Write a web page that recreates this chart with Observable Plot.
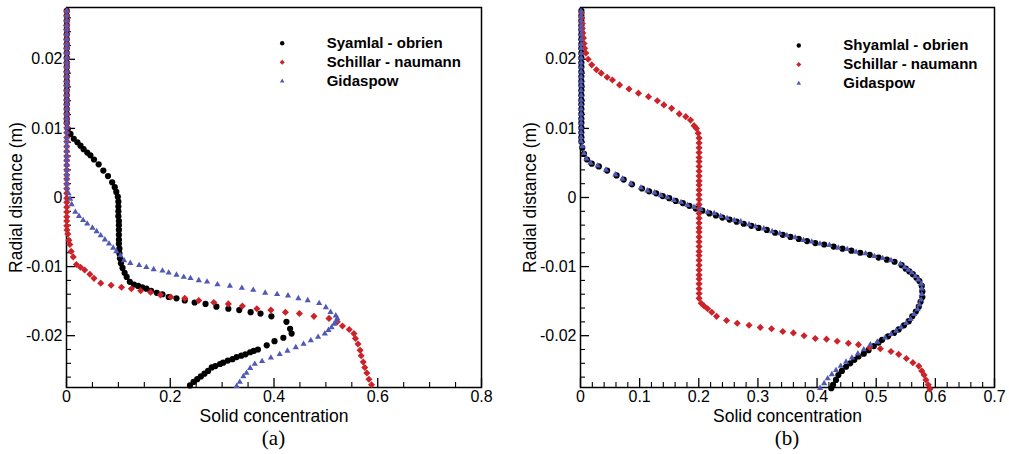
<!DOCTYPE html>
<html>
<head>
<meta charset="utf-8">
<script src="https://cdn.jsdelivr.net/npm/d3@7"></script>
<script src="https://cdn.jsdelivr.net/npm/@observablehq/plot@0.6"></script>
<style>
  html, body { margin: 0; padding: 0; background: #fff; }
  #wrap { position: relative; width: 1009px; height: 454px; background: #fff; overflow: hidden; }
  .pane { position: absolute; top: 0; }
  .cap { position: absolute; top: 426px; font: 21px "Liberation Serif", "Times New Roman", serif; text-align: center; line-height: 24px; color: #000; }
</style>
</head>
<body>
<div id="wrap">
  <div id="pa" class="pane" style="left:0px"></div>
  <div id="pb" class="pane" style="left:505px"></div>
  <div class="cap" style="left:66px;width:415px">(a)</div>
  <div class="cap" style="left:580px;width:414px">(b)</div>
</div>
<script>
// ---------- shared tick values / labels ----------
const yTicks = [0.02, 0.01, 0, -0.01, -0.02];
const yTickLabels = ["0.02", "0.01", "0", "-0.01", "-0.02"];
const yMinor = [0.026, 0.024, 0.022, 0.018, 0.016, 0.014, 0.012, 0.008, 0.006, 0.004, 0.002,
  -0.002, -0.004, -0.006, -0.008, -0.012, -0.014, -0.016, -0.018, -0.022, -0.024, -0.026];
const xTicksA = [0, 0.2, 0.4, 0.6, 0.8];
const xTickLabelsA = ["0", "0.2", "0.4", "0.6", "0.8"];
const xMinorA = [0.05, 0.1, 0.15, 0.25, 0.3, 0.35, 0.45, 0.5, 0.55, 0.65, 0.7, 0.75];
const xTicksB = [0, 0.1, 0.2, 0.3, 0.4, 0.5, 0.6, 0.7];
const xTickLabelsB = ["0", "0.1", "0.2", "0.3", "0.4", "0.5", "0.6", "0.7"];
const xMinorB = [0.02, 0.04, 0.06, 0.08, 0.12, 0.14, 0.16, 0.18, 0.22, 0.24, 0.26, 0.28, 0.32, 0.34, 0.36, 0.38,
  0.42, 0.44, 0.46, 0.48, 0.52, 0.54, 0.56, 0.58, 0.62, 0.64, 0.66, 0.68];
const xTitle = "Solid concentration";
const yTitle = "Radial distance (m)";

const legendA = ["Syamlal - obrien", "Schillar - naumann", "Gidaspow"];
const legendB = ["Shyamlal - obrien", "Schillar - naumann", "Gidaspow"];
const seriesColors = ["#000000", "#cc2229", "#5059b5"];
const seriesSymbols = ["circle", "diamond2", "triangle"];

// radial positions of the cells lying on the wall (x ≈ 0)
const wallY = [0.0270, 0.0263, 0.0256, 0.0249, 0.0243, 0.0236, 0.0229, 0.0222, 0.0216, 0.0209, 0.0202, 0.0195,
  0.0189, 0.0182, 0.0175, 0.0168, 0.0162, 0.0155, 0.0148, 0.0141, 0.0135, 0.0128, 0.0121, 0.0114, 0.0108,
  0.0101, 0.0094, 0.0087, 0.0081, 0.0074, 0.0067, 0.0060, 0.0054, 0.0047, 0.0040, 0.0033, 0.0027, 0.0020,
  0.0013, 0.0006, -0.0001, -0.0007, -0.0014, -0.0021, -0.0028, -0.0034, -0.0041];
const wallX = 0.0005;

// ---------- panel (a) ----------
const blackA = [
  [0.0025,0.0099],[0.0077,0.0092],[0.014,0.0085],[0.021,0.0080],[0.027,0.0075],[0.033,0.0070],[0.040,0.0065],
  [0.046,0.0061],[0.053,0.0055],[0.062,0.0048],[0.071,0.0039],[0.080,0.0031],[0.088,0.0022],[0.093,0.0015],
  [0.096,0.0008],[0.099,0.0001],[0.100,-0.0006],[0.100,-0.0013],[0.100,-0.0020],[0.100,-0.0027],[0.101,-0.0034],
  [0.101,-0.0040],[0.101,-0.0047],[0.101,-0.0054],[0.101,-0.0061],[0.101,-0.0067],[0.102,-0.0074],[0.102,-0.0081],
  [0.103,-0.0088],[0.105,-0.0095],[0.108,-0.0102],[0.112,-0.0109],[0.116,-0.0115],[0.122,-0.0122],[0.130,-0.0126],
  [0.138,-0.0128],[0.146,-0.0130],[0.154,-0.0132],[0.163,-0.0135],[0.174,-0.0138],[0.185,-0.0140],[0.197,-0.0144],
  [0.212,-0.0146],[0.228,-0.0149],[0.247,-0.0152],[0.268,-0.0154],[0.289,-0.0158],[0.312,-0.0161],[0.333,-0.0163],
  [0.355,-0.0166],[0.374,-0.0168],[0.395,-0.0172],[0.424,-0.0180],[0.431,-0.0190],[0.434,-0.0197],[0.418,-0.0203],
  [0.401,-0.0208],[0.386,-0.0214],[0.369,-0.0220],[0.361,-0.0222],[0.354,-0.0224],[0.345,-0.0227],[0.337,-0.0229],
  [0.328,-0.0231],[0.320,-0.0234],[0.311,-0.0236],[0.302,-0.0239],[0.296,-0.0241],[0.287,-0.0244],[0.280,-0.0246],
  [0.273,-0.0251],[0.266,-0.0255],[0.259,-0.0259],[0.252,-0.0263],[0.245,-0.0267],[0.238,-0.0272]
];
const redA = [
  [0.001,-0.0047],[0.0025,-0.0053],[0.0045,-0.0062],[0.0064,-0.0068],[0.009,-0.0078],[0.013,-0.0086],[0.019,-0.0097],
  [0.027,-0.0101],[0.035,-0.0105],[0.045,-0.0111],[0.053,-0.0117],[0.066,-0.0124],[0.086,-0.0127],[0.106,-0.0130],
  [0.125,-0.0132],[0.143,-0.0135],[0.162,-0.0137],[0.181,-0.0141],[0.201,-0.0144],[0.228,-0.0146],[0.255,-0.0149],
  [0.284,-0.0152],[0.312,-0.0154],[0.339,-0.0157],[0.367,-0.0161],[0.394,-0.0163],[0.422,-0.0166],[0.449,-0.0168],
  [0.477,-0.0172],[0.506,-0.0175],[0.522,-0.0180],[0.532,-0.0186],[0.545,-0.0191],[0.554,-0.0197],[0.557,-0.0204],
  [0.562,-0.0212],[0.566,-0.0221],[0.568,-0.0229],[0.572,-0.0238],[0.575,-0.0246],[0.579,-0.0254],[0.583,-0.0263],
  [0.588,-0.0271]
];
const blueA = [
  [0.004,0.0006],[0.007,-0.0002],[0.010,-0.0010],[0.017,-0.0021],[0.024,-0.0027],[0.032,-0.0033],[0.040,-0.0038],
  [0.050,-0.0044],[0.058,-0.0049],[0.066,-0.0055],[0.074,-0.0061],[0.082,-0.0067],[0.090,-0.0073],[0.096,-0.0078],
  [0.104,-0.0084],[0.111,-0.0091],[0.123,-0.0095],[0.140,-0.0098],[0.154,-0.0101],[0.168,-0.0104],[0.185,-0.0106],
  [0.197,-0.0109],[0.212,-0.0112],[0.226,-0.0115],[0.239,-0.0117],[0.255,-0.0120],[0.271,-0.0122],[0.291,-0.0126],
  [0.315,-0.0128],[0.338,-0.0131],[0.360,-0.0134],[0.383,-0.0138],[0.406,-0.0140],[0.427,-0.0142],[0.447,-0.0146],
  [0.465,-0.0149],[0.487,-0.0153],[0.500,-0.0159],[0.509,-0.0166],[0.519,-0.0171],[0.522,-0.0175],[0.520,-0.0179],
  [0.516,-0.0183],[0.511,-0.0188],[0.505,-0.0192],[0.498,-0.0197],[0.485,-0.0202],[0.471,-0.0207],[0.457,-0.0212],
  [0.442,-0.0217],[0.426,-0.0222],[0.411,-0.0227],[0.394,-0.0232],[0.377,-0.0237],[0.363,-0.0241],[0.354,-0.0247],
  [0.347,-0.0254],[0.341,-0.0259],[0.334,-0.0267],[0.328,-0.0273]
];

// ---------- panel (b) ----------
const blackB = [
  [0.003,0.0072],[0.006,0.0063],[0.011,0.0055],[0.019,0.0049],[0.031,0.0045],[0.045,0.0039],[0.061,0.0032],
  [0.073,0.0026],[0.087,0.0019],[0.104,0.0013],[0.116,0.0009],[0.128,0.0006],[0.139,0.0002],[0.150,-0.0001],
  [0.161,-0.0005],[0.173,-0.0008],[0.184,-0.0012],[0.195,-0.0016],[0.206,-0.0019],[0.218,-0.0023],[0.229,-0.0026],
  [0.240,-0.0029],[0.252,-0.0032],[0.264,-0.0035],[0.276,-0.0038],[0.289,-0.0041],[0.301,-0.0044],[0.315,-0.0047],
  [0.329,-0.0051],[0.342,-0.0054],[0.355,-0.0057],[0.369,-0.0060],[0.383,-0.0063],[0.397,-0.0066],[0.412,-0.0068],
  [0.428,-0.0071],[0.443,-0.0074],[0.458,-0.0077],[0.473,-0.0080],[0.489,-0.0083],[0.504,-0.0087],[0.518,-0.0090],
  [0.531,-0.0093],[0.543,-0.0098],[0.550,-0.0103],[0.556,-0.0107],[0.562,-0.0111],[0.568,-0.0116],[0.573,-0.0121],
  [0.577,-0.0128],[0.578,-0.0136],[0.578,-0.0144],[0.575,-0.0151],[0.572,-0.0158],[0.567,-0.0165],[0.561,-0.0172],
  [0.555,-0.0179],[0.547,-0.0185],[0.538,-0.0191],[0.530,-0.0196],[0.520,-0.0201],[0.510,-0.0206],[0.504,-0.0210],
  [0.496,-0.0215],[0.487,-0.0221],[0.479,-0.0226],[0.470,-0.0230],[0.463,-0.0235],[0.456,-0.0240],[0.449,-0.0245],
  [0.442,-0.0251],[0.436,-0.0257],[0.432,-0.0264],[0.427,-0.0271],[0.424,-0.0276]
];
const redB = [
  [0.002,0.0267],[0.002,0.0260],[0.003,0.0252],[0.003,0.0245],[0.004,0.0238],[0.005,0.0231],[0.006,0.0223],
  [0.007,0.0216],[0.009,0.0209],[0.013,0.0200],[0.019,0.0192],[0.027,0.0185],[0.035,0.0180],[0.045,0.0174],
  [0.054,0.0170],[0.066,0.0163],[0.082,0.0157],[0.098,0.0151],[0.115,0.0146],[0.130,0.0140],[0.141,0.0134],
  [0.154,0.0129],[0.167,0.0121],[0.178,0.0117],[0.186,0.0112],[0.192,0.0104],[0.196,0.0100],[0.199,0.0093],
  [0.2005,0.0086],[0.2005,0.0079],[0.2005,0.0072],[0.2005,0.0065],[0.2005,0.0058],[0.2005,0.0052],[0.2005,0.0045],
  [0.2005,0.0038],[0.2005,0.0031],[0.2005,0.0024],[0.2005,0.0018],[0.2005,0.0011],[0.2005,0.0004],[0.2005,-0.0003],
  [0.2005,-0.0010],[0.2005,-0.0016],[0.2005,-0.0023],[0.2005,-0.0030],[0.2005,-0.0037],[0.2005,-0.0044],
  [0.2005,-0.0050],[0.2005,-0.0057],[0.2005,-0.0064],[0.2005,-0.0071],[0.2005,-0.0078],[0.2005,-0.0084],
  [0.2005,-0.0091],[0.2005,-0.0098],[0.2005,-0.0105],[0.2005,-0.0112],[0.2005,-0.0118],[0.2005,-0.0125],
  [0.2005,-0.0132],[0.2005,-0.0139],[0.2005,-0.0146],[0.204,-0.0153],[0.209,-0.0157],[0.215,-0.0161],
  [0.222,-0.0166],[0.230,-0.0172],[0.247,-0.0178],[0.265,-0.0182],[0.285,-0.0185],[0.304,-0.0188],[0.323,-0.0190],
  [0.342,-0.0194],[0.360,-0.0196],[0.378,-0.0200],[0.397,-0.0204],[0.416,-0.0205],[0.434,-0.0208],[0.453,-0.0211],
  [0.470,-0.0213],[0.489,-0.0217],[0.507,-0.0219],[0.525,-0.0223],[0.538,-0.0227],[0.551,-0.0233],[0.562,-0.0239],
  [0.572,-0.0244],[0.577,-0.0251],[0.581,-0.0257],[0.584,-0.0264],[0.588,-0.0271],[0.591,-0.0277]
];
const blueB = [
  [0.003,0.0074],[0.006,0.0064],[0.010,0.0056],[0.017,0.0050],[0.029,0.0046],[0.043,0.0040],[0.059,0.0033],
  [0.071,0.0027],[0.085,0.0020],[0.102,0.0014],[0.113,0.0010],[0.125,0.0007],[0.136,0.0003],[0.147,0.0000],
  [0.158,-0.0004],[0.170,-0.0007],[0.181,-0.0011],[0.192,-0.0014],[0.203,-0.0017],[0.215,-0.0021],[0.226,-0.0023],
  [0.237,-0.0027],[0.248,-0.0030],[0.260,-0.0033],[0.271,-0.0035],[0.285,-0.0039],[0.296,-0.0042],[0.310,-0.0045],
  [0.324,-0.0049],[0.337,-0.0052],[0.349,-0.0055],[0.363,-0.0058],[0.377,-0.0062],[0.391,-0.0064],[0.405,-0.0067],
  [0.421,-0.0069],[0.436,-0.0073],[0.451,-0.0075],[0.466,-0.0079],[0.482,-0.0081],[0.497,-0.0085],[0.511,-0.0088],
  [0.525,-0.0091],[0.541,-0.0096],[0.548,-0.0101],[0.554,-0.0105],[0.560,-0.0109],[0.566,-0.0114],[0.571,-0.0119],
  [0.576,-0.0125],[0.577,-0.0132],[0.577,-0.0140],[0.576,-0.0148],[0.573,-0.0155],[0.570,-0.0162],[0.564,-0.0169],
  [0.558,-0.0176],[0.551,-0.0182],[0.542,-0.0188],[0.534,-0.0193],[0.525,-0.0198],[0.515,-0.0203],[0.502,-0.0209],
  [0.490,-0.0213],[0.479,-0.0220],[0.469,-0.0226],[0.459,-0.0232],[0.449,-0.0238],[0.440,-0.0244],[0.432,-0.0250],
  [0.425,-0.0256],[0.418,-0.0262],[0.412,-0.0269],[0.405,-0.0276]
];

// wall segments (how far down the x ≈ 0 run of each curve extends)
const wallBlackA = wallY.slice(0, 25).map(y => [wallX, y]);
const wallRedA = wallY.slice(0, 47).map(y => [wallX, y]);
const wallBlueA = wallY.slice(0, 39).map(y => [wallX, y]);
const wallBlackB = wallY.slice(0, 29).map(y => [0.0015, y]);
const wallBlueB = wallY.slice(0, 29).map(y => [0.001, y]);

const FONT = '"Liberation Sans", Arial, Helvetica, sans-serif';

function panel(opts) {
  const {width, marginLeft, marginRight, xMax, xTicks, xTickLabels, xMinor, series, legend, legDx, legDy} = opts;
  const xLab = new Map(xTicks.map((d, i) => [d, xTickLabels[i]]));
  const yLab = new Map(yTicks.map((d, i) => [d, yTickLabels[i]]));
  const marks = [
    Plot.axisX(xMinor, {anchor: "bottom", tickSize: -5, text: null, label: null, strokeWidth: 1.1}),
    Plot.axisX(xTicks, {anchor: "bottom", tickSize: -9, text: null, label: null, strokeWidth: 1.3}),
    Plot.axisX(xTicks, {anchor: "bottom", tickSize: 0, tickPadding: 3, tickFormat: d => xLab.get(d), fontSize: 16, label: null}),
    Plot.axisX(xTicks, {anchor: "bottom", tickSize: 0, text: null, fontSize: 17.5,
      label: xTitle, labelAnchor: "center", labelOffset: 34, labelArrow: "none"}),
    Plot.axisY(yMinor, {anchor: "left", tickSize: -5, text: null, label: null, strokeWidth: 1.1}),
    Plot.axisY(yTicks, {anchor: "left", tickSize: -9, text: null, label: null, strokeWidth: 1.3}),
    Plot.axisY(yTicks, {anchor: "left", tickSize: 0, tickPadding: 4, tickFormat: d => yLab.get(d), fontSize: 16, label: null}),
    Plot.axisY(yTicks, {anchor: "left", tickSize: 0, text: null, fontSize: 17.5,
      label: yTitle, labelAnchor: "center", labelOffset: 57, labelArrow: "none"}),
    Plot.frame({stroke: "#000", strokeWidth: 1.5})
  ];
  const rs = [3.1, 3.2, 2.3];
  series.forEach((pts, i) => {
    marks.push(Plot.dot(pts, {x: d => d[0], y: d => d[1], symbol: seriesSymbols[i], fill: seriesColors[i], r: rs[i], stroke: "none"}));
  });
  const legR = [2.2, 2.3, 1.7];
  legend.forEach((label, i) => {
    marks.push(Plot.dot([label], {frameAnchor: "top-left", dx: legDx, dy: legDy + i * 19, symbol: seriesSymbols[i], fill: seriesColors[i], r: legR[i]}));
    marks.push(Plot.text([label], {frameAnchor: "top-left", dx: legDx + 44.5, dy: legDy + i * 19, text: d => d, textAnchor: "start", lineAnchor: "middle", fontWeight: "bold", fontSize: 15, fill: "#000"}));
  });
  return Plot.plot({
    width, height: 422, marginTop: 7, marginBottom: 35, marginLeft, marginRight,
    x: {domain: [0, xMax]},
    y: {domain: [-0.0275, 0.0275]},
    style: {fontFamily: FONT, fontSize: "16px", background: "#fff", color: "#000", overflow: "visible"},
    marks
  });
}

document.getElementById("pa").append(panel({
  width: 505, marginLeft: 66, marginRight: 24, xMax: 0.8,
  xTicks: xTicksA, xTickLabels: xTickLabelsA, xMinor: xMinorA,
  series: [wallBlackA.concat(blackA), wallRedA.concat(redA), wallBlueA.concat(blueA)],
  legend: legendA, legDx: 215.7, legDy: 35.7
}));
document.getElementById("pb").append(panel({
  width: 504, marginLeft: 75, marginRight: 15, xMax: 0.7,
  xTicks: xTicksB, xTickLabels: xTickLabelsB, xMinor: xMinorB,
  series: [wallBlackB.concat(blackB), redB, wallBlueB.concat(blueB)],
  legend: legendB, legDx: 218.3, legDy: 38
}));
</script>
</body>
</html>
